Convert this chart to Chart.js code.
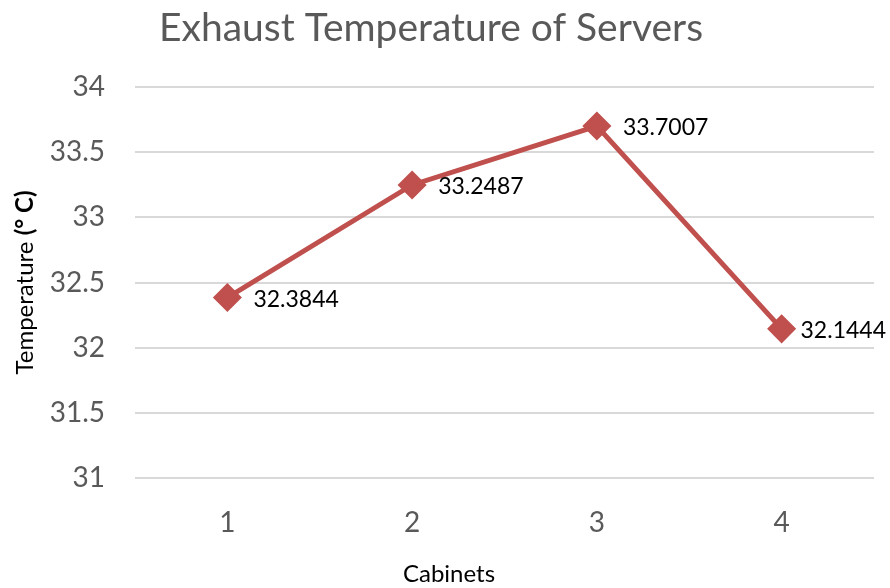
<!DOCTYPE html>
<html>
<head>
<meta charset="utf-8">
<script src="https://cdn.jsdelivr.net/npm/chart.js@4"></script>
<style>
  html, body { margin: 0; padding: 0; background: #fff; }
  #wrap { width: 890px; height: 588px; }
</style>
</head>
<body>
<div id="wrap"><canvas id="tempChart" width="890" height="588"></canvas></div>
<script>
// ---------------- DATA ----------------
const cabinets = ["1", "2", "3", "4"];
const exhaustTemp = [32.3844, 33.2487, 33.7007, 32.1444];
const yTicks = [31, 31.5, 32, 32.5, 33, 33.5, 34];

const chartTitle = "Exhaust Temperature of Servers";
const xTitle = "Cabinets";
const yTitleParts = [["Temperature ", "normal"], ["(° C)", "bold"]];

const RED = "#C0504D";
const FONT = "Lato, 'Open Sans', sans-serif";

// value labels right of each point (no datalabels plugin available)
const pointLabels = {
    id: "pointLabels",
    afterDatasetsDraw(chart) {
        const ctx = chart.ctx;
        const meta = chart.getDatasetMeta(0);
        ctx.save();
        ctx.font = "23px " + FONT;
        ctx.fillStyle = "#000";
        ctx.textBaseline = "middle";
        ctx.textAlign = "left";
        meta.data.forEach((pt, i) => {
            const txt = String(exhaustTemp[i]);
            const w = ctx.measureText(txt).width;
            let x = pt.x + 26;
            if (x + w > chart.width - 4) x = chart.width - 4 - w;
            ctx.fillText(txt, x, pt.y + 2);
        });
        ctx.restore();
    }
};

// chart title + axis titles drawn by hand ("(° C)" is bold)
const titles = {
    id: "titles",
    afterDraw(chart) {
        const ctx = chart.ctx;
        ctx.save();
        ctx.textBaseline = "middle";
        ctx.textAlign = "center";

        ctx.fillStyle = "#595959";
        ctx.font = "39px " + FONT;
        ctx.fillText(chartTitle, chart.width / 2 - 14, 28);

        ctx.fillStyle = "#000";
        ctx.font = "24px " + FONT;
        ctx.fillText(xTitle, chart.width / 2 + 4, chart.height - 14);

        // y title, rotated
        let total = 0;
        yTitleParts.forEach(p => {
            ctx.font = p[1] + " 24px " + FONT;
            total += ctx.measureText(p[0]).width;
        });
        const ca = chart.chartArea;
        ctx.translate(25, (ca.top + ca.bottom) / 2);
        ctx.rotate(-Math.PI / 2);
        ctx.textAlign = "left";
        let x = -total / 2;
        yTitleParts.forEach(p => {
            ctx.font = p[1] + " 24px " + FONT;
            ctx.fillText(p[0], x, 0);
            x += ctx.measureText(p[0]).width;
        });
        ctx.restore();
    }
};

new Chart(document.getElementById("tempChart"), {
    type: "line",
    data: {
        labels: cabinets,
        datasets: [{
            data: exhaustTemp,
            borderColor: RED,
            backgroundColor: RED,
            borderWidth: 5,
            pointStyle: "rectRot",
            pointRadius: 11,
            pointHoverRadius: 11,
            tension: 0
        }]
    },
    options: {
        responsive: false,
        animation: false,
        layout: { padding: { top: 87, right: 4, left: 0, bottom: 0 } },
        plugins: {
            legend: { display: false },
            tooltip: { enabled: false },
            title: { display: false }
        },
        scales: {
            x: {
                offset: true,
                grid: { display: false, drawTicks: false },
                border: { display: false },
                ticks: {
                    color: "#595959",
                    font: { family: FONT, size: 28 },
                    padding: 28
                },
                afterFit: s => {
                    s.height = 110;
                    s.paddingLeft = 0;
                    s.paddingRight = 0;
                }
            },
            y: {
                min: 31,
                max: 34,
                afterBuildTicks: s => { s.ticks = yTicks.map(v => ({ value: v })); },
                grid: { color: "#D9D9D9", lineWidth: 2, drawTicks: false },
                border: { display: false },
                ticks: {
                    color: "#595959",
                    font: { family: FONT, size: 28 },
                    padding: 30,
                    callback: v => String(v)
                },
                afterFit: s => {
                    s.width = 135;
                    s.paddingTop = 0;
                    s.paddingBottom = 0;
                }
            }
        }
    },
    plugins: [pointLabels, titles]
});
</script>
</body>
</html>
